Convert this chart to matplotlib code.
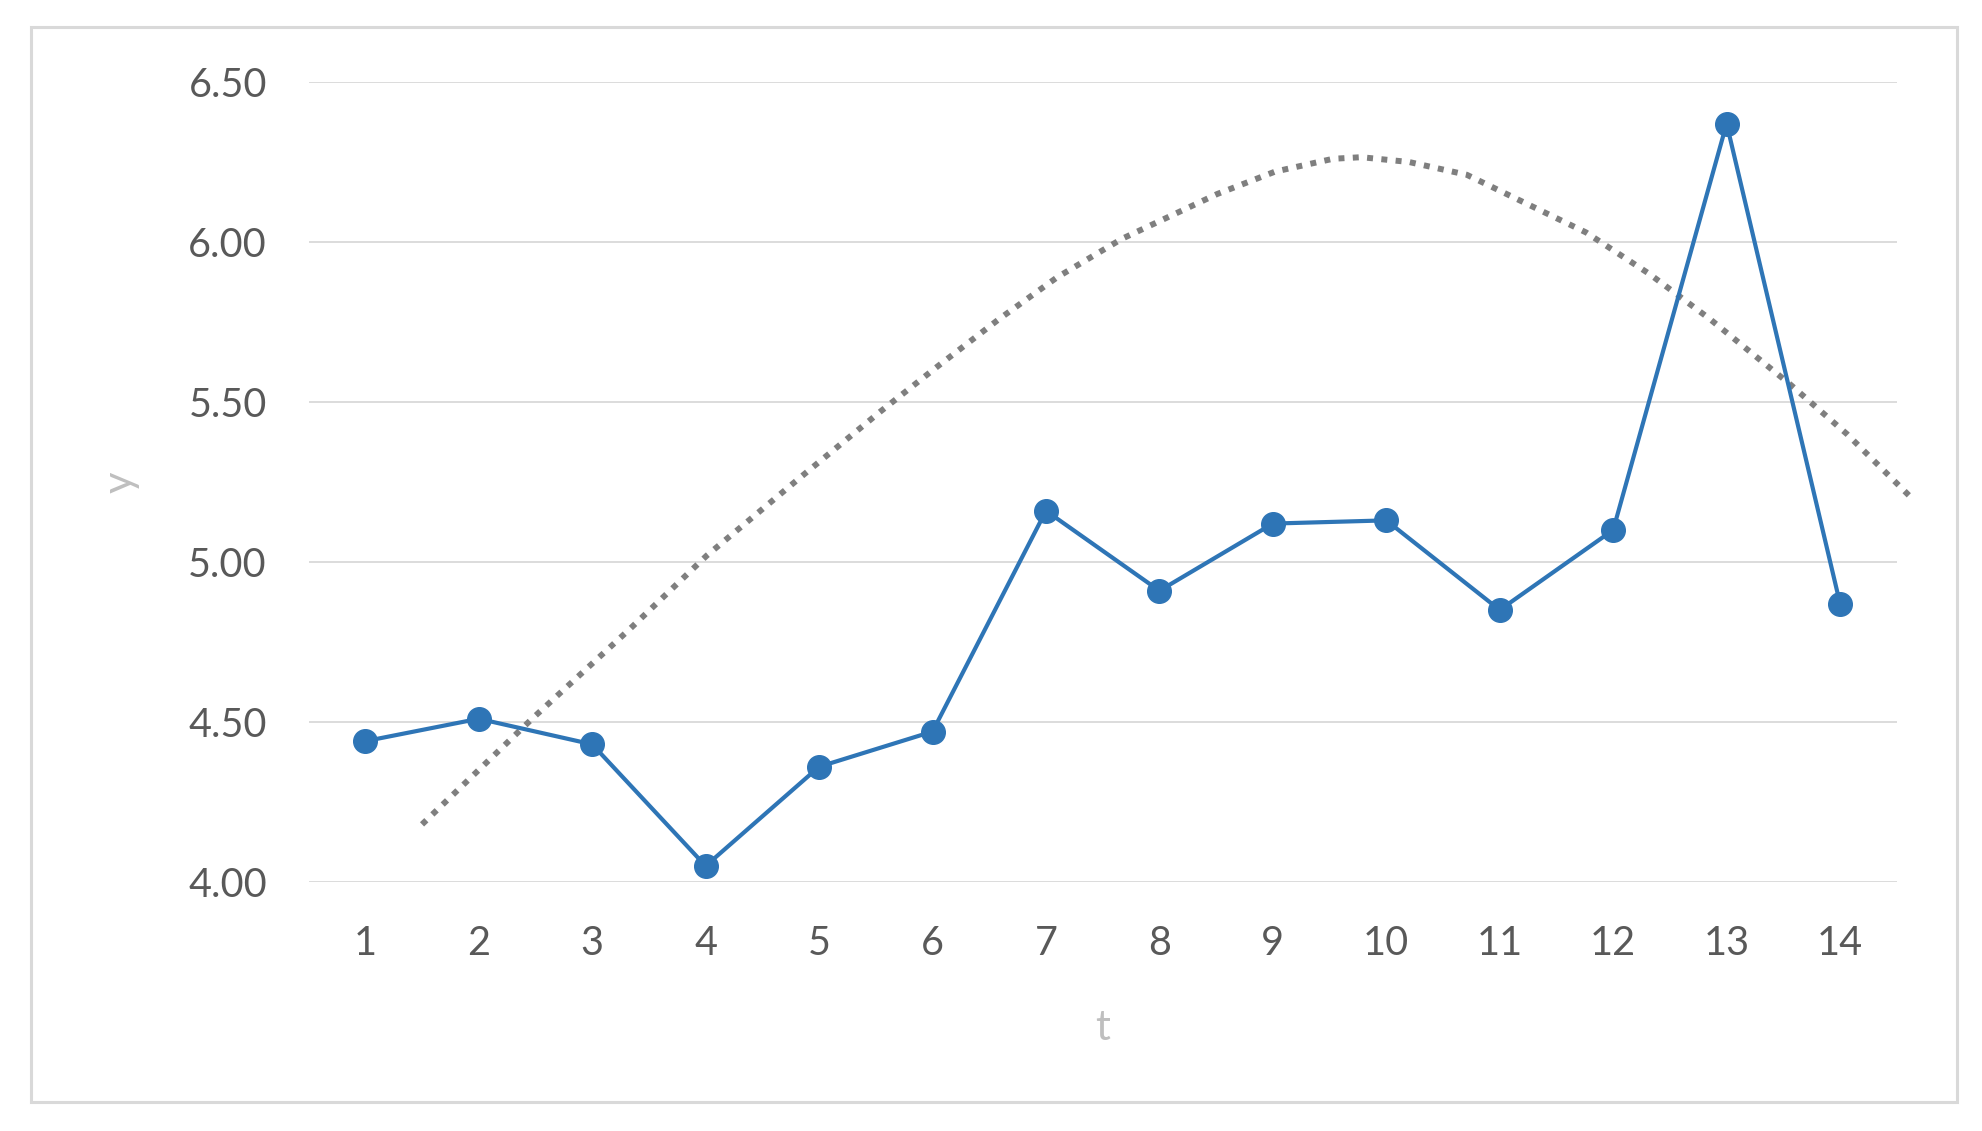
import matplotlib
matplotlib.use("Agg")
import matplotlib.pyplot as plt
from matplotlib.patches import Rectangle

# --- data ---
T = list(range(1, 15))
Y = [4.44, 4.51, 4.43, 4.05, 4.36, 4.47, 5.16, 4.91, 5.12, 5.13, 4.85, 5.10, 6.37, 4.87]

# dotted trendline, sampled by eye along the curve
TREND_T = [1.50, 2.47, 3.33, 4.01, 4.82, 5.54, 6.04, 6.59, 7.10, 7.67, 8.51, 9.02, 9.53,
           9.78, 10.20, 10.71, 11.06, 11.41, 11.76, 12.32, 12.85, 13.56, 14.06, 14.63]
TREND_Y = [4.18, 4.51, 4.79, 5.02, 5.26, 5.47, 5.61, 5.76, 5.89, 6.01, 6.15, 6.22, 6.26,
           6.265, 6.25, 6.21, 6.15, 6.09, 6.03, 5.90, 5.76, 5.555, 5.40, 5.20]

Y_TICKS = [4.00, 4.50, 5.00, 5.50, 6.00, 6.50]

LINE_COLOR = "#2E75B6"
TREND_COLOR = "#7F7F7F"
GRID_COLOR = "#D9D9D9"
TEXT_COLOR = "#595959"
TITLE_COLOR = "#BFBFBF"

plt.rcParams["font.family"] = ["Lato", "DejaVu Sans"]

fig = plt.figure(figsize=(19.82, 11.31), dpi=100)
ax = fig.add_axes([0.1557, 0.2202, 0.8013, 0.7073])

# outer chart border
fig.patches.append(Rectangle((0.0156, 0.0256), 0.9718, 0.9505, transform=fig.transFigure,
                             fill=False, edgecolor=GRID_COLOR, linewidth=2.2))

ax.plot(TREND_T, TREND_Y, color=TREND_COLOR, linewidth=4.3,
        linestyle=(0, (1, 1.4)), dash_capstyle="butt", clip_on=False, zorder=2)
ax.plot(T, Y, color=LINE_COLOR, linewidth=3, marker="o", markersize=17,
        markerfacecolor=LINE_COLOR, markeredgecolor=LINE_COLOR, zorder=3)

ax.set_xlim(0.5, 14.5)
ax.set_ylim(4.0, 6.5)
ax.set_xticks(T)
ax.set_xticklabels([str(t) for t in T])
ax.set_yticks(Y_TICKS)
ax.set_yticklabels([f"{v:.2f}" for v in Y_TICKS])

ax.grid(axis="y", color=GRID_COLOR, linewidth=1.3)
ax.set_axisbelow(True)
for s in ax.spines.values():
    s.set_visible(False)
ax.tick_params(axis="both", length=0, labelsize=28.5, labelcolor=TEXT_COLOR)
ax.tick_params(axis="x", pad=31)
ax.tick_params(axis="y", pad=30)

ax.set_xlabel("t", fontsize=30, color=TITLE_COLOR, labelpad=34)
ax.set_ylabel("y", fontsize=30, color=TITLE_COLOR, labelpad=35)

fig.savefig("out.png", dpi=100)
plt.close(fig)
